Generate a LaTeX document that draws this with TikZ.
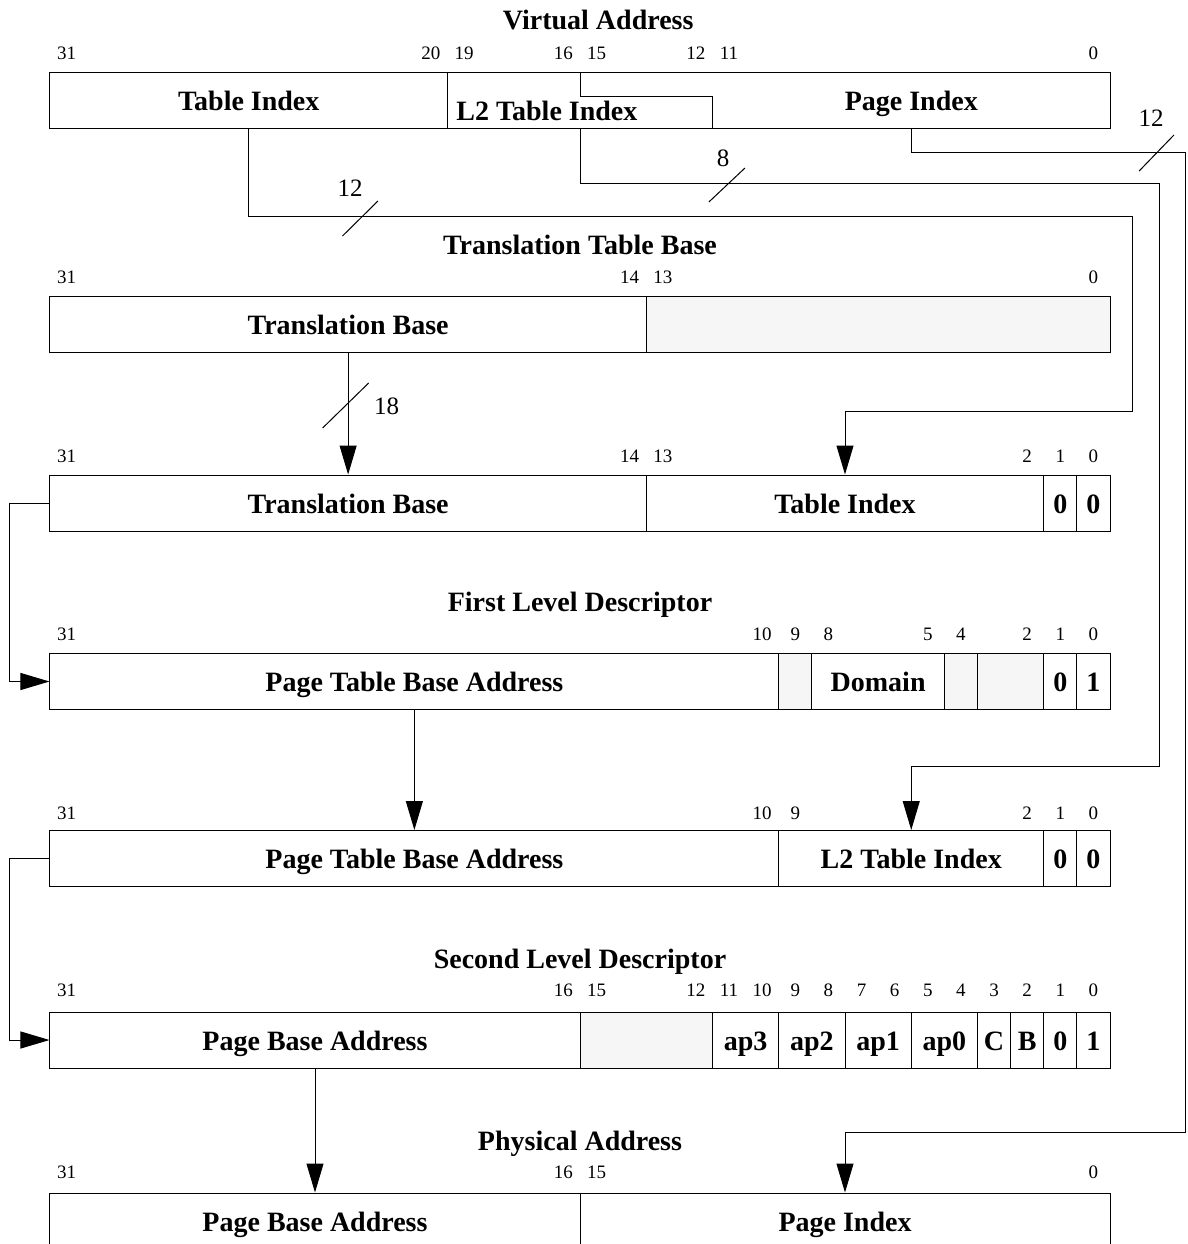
\documentclass[tikz,border=0pt]{standalone}
\usepackage{fontspec}
\setmainfont{Liberation Serif}
\usetikzlibrary{arrows.meta}
\definecolor{resgray}{gray}{0.965}
\tikzset{
  field/.style={draw, rectangle, inner sep=0pt, minimum height=28pt,
    minimum width=#1*16.5625pt, text height=13pt, text depth=3pt,
    font=\bfseries\fontsize{14}{16}\selectfont},
  res/.style={field=#1, fill=resgray},
  txt/.style={inner sep=0pt, text height=13pt, text depth=3pt,
    font=\bfseries\fontsize{14}{16}\selectfont},
  bitno/.style={inner sep=0pt, font=\fontsize{9.5}{11}\selectfont},
  buswidth/.style={inner sep=0pt, font=\fontsize{12.5}{14}\selectfont}
}
\begin{document}
\begin{tikzpicture}[x=16.5625pt, y=-0.5pt, line width=0.5pt,
                    >={Triangle[length=14.5pt,width=8.5pt]}]
  \useasboundingbox (-1.5094,0) rectangle (34.3547,1244);

  % virtual address
  \node[txt] (vatitle) at (16.55,19) {Virtual Address};
  \foreach \b in {31,20,19,16,15,12,11,0}
    \node[bitno] (va\b) at (31.5-\b,53) {\b};
  \node[field=12] (vaTI) at (6,100.5) {Table Index};
  \node[field=20] (vaLo) at (22,100.5) {};
  \draw (16,72.5) -- (16,96) -- (20,96) -- (20,128.5);
  \node[txt] (vaL2) at (15,110) {L2 Table Index};
  \node[txt] (vaPI) at (26,100.5) {Page Index};
  \coordinate (l2tap) at (16,128.5);

  % translation table base
  \node[txt] (ttbtitle) at (16,244) {Translation Table Base};
  \foreach \b in {31,14,13,0}
    \node[bitno] (ttb\b) at (31.5-\b,277) {\b};
  \node[field=18] (ttbTB) at (9,324) {Translation Base};
  \node[res=14] (ttbRes) at (25,324) {};

  % level one address
  \foreach \b in {31,14,13,2,1,0}
    \node[bitno] (ti\b) at (31.5-\b,456) {\b};
  \node[field=18] (tiTB) at (9,503) {Translation Base};
  \node[field=12] (tiTI) at (24,503) {Table Index};
  \node[field=1] (tiB1) at (30.5,503) {0};
  \node[field=1] (tiB0) at (31.5,503) {0};

  % first level descriptor
  \node[txt] (fdtitle) at (16,601) {First Level Descriptor};
  \foreach \b in {31,10,9,8,5,4,2,1,0}
    \node[bitno] (fd\b) at (31.5-\b,634) {\b};
  \node[field=22] (fdPTBA) at (11,681.5) {Page Table Base Address};
  \node[res=1] (fdR9) at (22.5,681.5) {};
  \node[field=4] (fdDom) at (25,681.5) {Domain};
  \node[res=1] (fdR4) at (27.5,681.5) {};
  \node[res=2] (fdR32) at (29,681.5) {};
  \node[field=1] (fdB1) at (30.5,681.5) {0};
  \node[field=1] (fdB0) at (31.5,681.5) {1};

  % level two address
  \foreach \b in {31,10,9,2,1,0}
    \node[bitno] (sd\b) at (31.5-\b,813) {\b};
  \node[field=22] (sdPTBA) at (11,858.5) {Page Table Base Address};
  \node[field=8] (sdL2) at (26,858.5) {L2 Table Index};
  \node[field=1] (sdB1) at (30.5,858.5) {0};
  \node[field=1] (sdB0) at (31.5,858.5) {0};

  % second level descriptor
  \node[txt] (sltitle) at (16,958) {Second Level Descriptor};
  \foreach \b in {31,16,15,12,11,10,9,8,7,6,5,4,3,2,1,0}
    \node[bitno] (sl\b) at (31.5-\b,990) {\b};
  \node[field=16] (slPBA) at (8,1040) {Page Base Address};
  \node[res=4] (slRes) at (18,1040) {};
  \node[field=2] (slAP3) at (21,1040) {ap3};
  \node[field=2] (slAP2) at (23,1040) {ap2};
  \node[field=2] (slAP1) at (25,1040) {ap1};
  \node[field=2] (slAP0) at (27,1040) {ap0};
  \node[field=1] (slC) at (28.5,1040) {C};
  \node[field=1] (slB) at (29.5,1040) {B};
  \node[field=1] (slB1) at (30.5,1040) {0};
  \node[field=1] (slB0) at (31.5,1040) {1};

  % physical address
  \node[txt] (patitle) at (16,1140) {Physical Address};
  \foreach \b in {31,16,15,0}
    \node[bitno] (pa\b) at (31.5-\b,1172) {\b};
  \node[field=16] (paPBA) at (8,1221) {Page Base Address};
  \node[field=16] (paPI) at (24,1221) {Page Index};

  % buses
  \draw[->] (vaTI.south) |- (32.69,216) |- (24,411) -- (tiTI.north);
  \draw (8.83,236) -- (9.90,201);
  \node[buswidth] (w12a) at (9.06,188) {12};
  \draw[->] (l2tap) |- (33.48,183) |- (26,766) -- (sdL2.north);
  \draw (19.89,202) -- (20.98,168);
  \node[buswidth] (w8) at (20.32,158) {8};
  \draw[->] (vaPI |- vaLo.south) |- (34.29,152) |- (24,1132) -- (paPI.north);
  \draw (32.88,171) -- (33.93,135);
  \node[buswidth] (w12b) at (33.24,118) {12};

  \draw[->] (ttbTB.south) -- (tiTB.north);
  \draw (8.23,428) -- (9.62,383);
  \node[buswidth] (w18) at (10.16,406) {18};

  \draw[->] (tiTB.west) -- ++(-1.21,0) |- (fdPTBA.west);
  \draw[->] (fdPTBA.south) -- (sdPTBA.north);
  \draw[->] (sdPTBA.west) -- ++(-1.21,0) |- (slPBA.west);
  \draw[->] (slPBA.south) -- (paPBA.north);
\end{tikzpicture}
\end{document}
